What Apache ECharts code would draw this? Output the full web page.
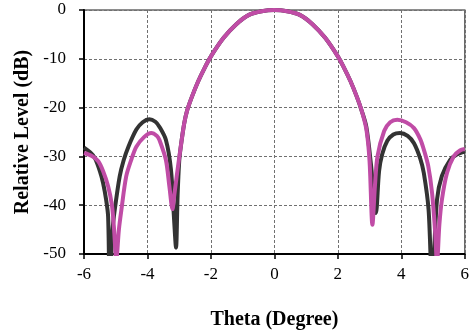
<!DOCTYPE html>
<html>
<head>
<meta charset="utf-8">
<script src="https://cdn.jsdelivr.net/npm/echarts@6/dist/echarts.min.js"></script>
<style>
  html, body { margin: 0; padding: 0; background: #fff; }
  #chart { width: 472px; height: 336px; }
</style>
</head>
<body>
<div id="chart"></div>
<script>
// theta (deg) / relative level (dB)
const blackTheta = [-6.0, -5.8, -5.66, -5.5, -5.4, -5.3, -5.24, -5.19, -5.1, -5.03, -4.875, -4.75, -4.6, -4.35, -4.15, -3.94, -3.75, -3.625, -3.42, -3.26, -3.16, -3.1, -3.05, -3.0, -2.95, -2.84, -2.75, -2.6, -2.4, -2.2, -2.0, -1.6, -1.2, -0.8, -0.4, 0, 0.4, 0.8, 1.2, 1.6, 2.0, 2.2, 2.4, 2.6, 2.75, 2.9, 3.05, 3.2, 3.3, 3.4, 3.56, 3.75, 3.96, 4.2, 4.4, 4.6, 4.71, 4.86, 4.97, 5.125, 5.28, 5.54, 5.75, 6.0]
const blackDb = [-28.2, -29.2, -30.3, -33, -35.4, -39, -42.3, -56, -45, -40.9, -34.1, -30.8, -28, -24.5, -23, -22.4, -22.9, -23.9, -26.6, -32.7, -43, -48.7, -38, -31, -28, -23.2, -20.6, -17.8, -14.6, -11.9, -9.5, -5.7, -2.9, -1.0, -0.25, 0, -0.25, -1.0, -2.9, -5.7, -9.5, -11.9, -14.6, -17.8, -20.6, -24, -32, -41.6, -33, -29.5, -26.8, -25.5, -25.2, -25.8, -27.3, -30.5, -33.4, -40.9, -56, -38.9, -34, -30.7, -29.6, -29]

const magentaTheta = [-6.0, -5.75, -5.55, -5.4, -5.24, -5.12, -5.06, -4.98, -4.9, -4.82, -4.67, -4.5, -4.35, -4.1, -3.88, -3.7, -3.625, -3.42, -3.31, -3.21, -3.16, -3.05, -2.95, -2.84, -2.75, -2.6, -2.4, -2.2, -2.0, -1.6, -1.2, -0.8, -0.4, 0, 0.4, 0.8, 1.2, 1.6, 2.0, 2.2, 2.4, 2.6, 2.75, 2.9, 3.0, 3.09, 3.17, 3.25, 3.46, 3.65, 3.875, 4.15, 4.4, 4.6, 4.71, 4.85, 4.97, 5.07, 5.125, 5.2, 5.28, 5.44, 5.65, 5.85, 6.0]
const magentaDb = [-29.3, -29.9, -31, -33, -36.1, -40, -44.3, -51, -45, -40.9, -34.1, -30.5, -28, -26, -25.2, -25.8, -26.6, -30.7, -36.1, -40.8, -38.2, -32.7, -28, -23.2, -20.6, -17.8, -14.6, -11.9, -9.5, -5.7, -2.9, -1.0, -0.25, 0, -0.25, -1.0, -2.9, -5.7, -9.5, -11.9, -14.6, -17.8, -20.6, -24.5, -31, -44, -36, -30, -24.8, -23.0, -22.5, -23, -24.2, -26.5, -28.6, -32, -37.5, -45.7, -52, -44, -38.9, -33.4, -30, -28.8, -28.5]

const xTicks = { min: -6, max: 6, interval: 2 }
const yTicks = { min: -50, max: 0, interval: 10 }

const serif = '"Liberation Serif", "DejaVu Serif", serif'
const pairs = (xs, ys) => xs.map((x, i) => [x, ys[i]])

const chart = echarts.init(document.getElementById('chart'), null, { renderer: 'canvas' })

chart.setOption({
  animation: false,
  grid: {
    left: 84,
    right: 4,
    top: 10,
    bottom: 82,
    show: true,
    borderColor: '#6a6a6a',
    borderWidth: 1.5,
  },
  xAxis: {
    type: 'value',
    ...xTicks,
    name: 'Theta (Degree)',
    nameLocation: 'middle',
    nameGap: 56,
    nameTextStyle: { fontFamily: serif, fontWeight: 'bold', fontSize: 20, color: '#000' },
    axisLine: { onZero: false, lineStyle: { color: '#000', width: 2 } },
    axisTick: { show: true, length: 5, lineStyle: { color: '#000', width: 1.5 } },
    axisLabel: { fontFamily: serif, fontSize: 17, color: '#000', margin: 12 },
    splitLine: { show: true, lineStyle: { color: '#707070', type: [3, 2], width: 1 } },
  },
  yAxis: {
    type: 'value',
    ...yTicks,
    name: 'Relative Level (dB)',
    nameLocation: 'middle',
    nameGap: 50,
    nameRotate: 90,
    nameTextStyle: { fontFamily: serif, fontWeight: 'bold', fontSize: 20, color: '#000' },
    axisLine: { show: true, onZero: false, lineStyle: { color: '#000', width: 2 } },
    axisTick: { show: true, length: 5, lineStyle: { color: '#000', width: 1.5 } },
    axisLabel: { fontFamily: serif, fontSize: 17, color: '#000', margin: 18 },
    splitLine: { show: true, lineStyle: { color: '#707070', type: [3, 2], width: 1 } },
  },
  series: [
    {
      type: 'line',
      name: 'black',
      data: pairs(blackTheta, blackDb),
      symbol: 'none',
      smooth: 0.3,
      clip: true,
      lineStyle: { color: '#333333', width: 4 },
    },
    {
      type: 'line',
      name: 'magenta',
      data: pairs(magentaTheta, magentaDb),
      symbol: 'none',
      smooth: 0.3,
      clip: true,
      lineStyle: { color: '#c04ca6', width: 4 },
    },
  ],
})
</script>
</body>
</html>
